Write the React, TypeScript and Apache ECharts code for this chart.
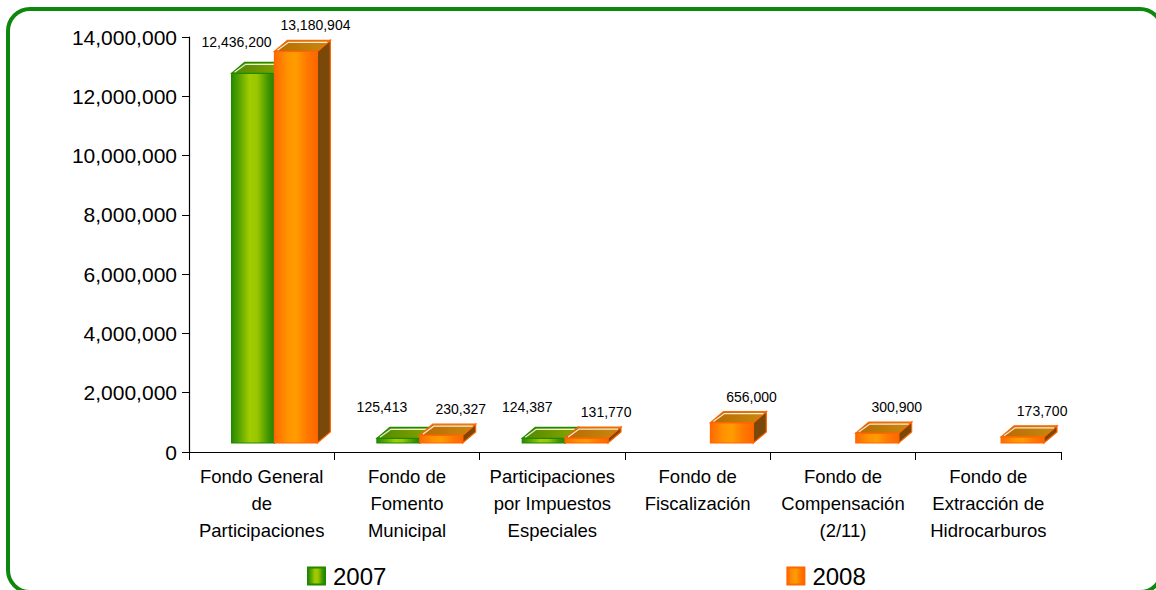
import React, { useEffect, useRef } from "react";
import * as echarts from "echarts";

const categories = [
  "Fondo General\nde\nParticipaciones",
  "Fondo de\nFomento\nMunicipal",
  "Participaciones\npor Impuestos\nEspeciales",
  "Fondo de\nFiscalización",
  "Fondo de\nCompensación\n(2/11)",
  "Fondo de\nExtracción de\nHidrocarburos",
];
const seriesNames = ["2007", "2008"];
const values2007: (number | null)[] = [12436200, 125413, 124387, null, null, null];
const values2008: (number | null)[] = [13180904, 230327, 131770, 656000, 300900, 173700];
const yTicks = [0, 2000000, 4000000, 6000000, 8000000, 10000000, 12000000, 14000000];

const FONT = "'Liberation Sans', Arial, sans-serif";
const fmt = (v: number) => v.toLocaleString("en-US");

const lg = (stops: [number, string][]) =>
  new echarts.graphic.LinearGradient(0, 0, 1, 0, stops.map(([offset, color]) => ({ offset, color })));

const palettes = [
  {
    front: () => lg([[0, "#2a8a00"], [0.15, "#4fa000"], [0.42, "#a2cc00"], [0.6, "#98c600"], [0.86, "#3f9400"], [1, "#2a8200"]]),
    top: () => lg([[0, "#4f8a00"], [1, "#8aa400"]]),
    side: "#3d6a00",
    stroke: "#1f8a00",
    labelCx: 5,
    labelDy: -31,
  },
  {
    front: () => lg([[0, "#ff6a00"], [0.3, "#ff9200"], [0.5, "#ff9c00"], [0.75, "#ff7a00"], [1, "#ff6600"]]),
    top: () => lg([[0, "#b86a00"], [1, "#c88a10"]]),
    side: "#7a4808",
    stroke: "#ff6600",
    labelCx: 41,
    labelDy: -26,
  },
];

function makeRender(si: number) {
  const p = palettes[si];
  return (params: any, api: any) => {
    const ci = api.value(0);
    const v = api.value(1);
    const base = api.coord([ci, 0]);
    const topPt = api.coord([ci, v]);
    const bw = api.size([1, 0])[0];
    const w = bw * 0.295;
    const L = base[0] - bw * 0.207 + si * w;
    const R = L + w;
    const B = base[1] - 9;
    const T = Math.min(topPt[1] - 10, B - 4);
    const dx = 13;
    const dy = 11;
    return {
      type: "group",
      children: [
        {
          type: "polygon",
          shape: { points: [[R, T], [R + dx, T - dy], [R + dx, B - dy], [R, B]] },
          style: { fill: p.side, stroke: p.stroke, lineWidth: 1.2 },
        },
        {
          type: "rect",
          shape: { x: L, y: T, width: w, height: B - T },
          style: { fill: p.front(), stroke: p.stroke, lineWidth: 1.2 },
        },
        {
          type: "polygon",
          shape: { points: [[L, T], [R, T], [R + dx, T - dy], [L + dx, T - dy]] },
          style: { fill: p.top(), stroke: p.stroke, lineWidth: 1.2 },
        },
        {
          type: "polyline",
          shape: { points: [[L + 3, T - 1], [L + dx + 1, T - dy + 2], [R + dx - 3, T - dy + 2]] },
          style: { fill: null, stroke: "rgba(255,255,255,0.85)", lineWidth: 1.2 },
        },
        {
          type: "text",
          style: {
            text: fmt(v),
            x: L + p.labelCx,
            y: T + p.labelDy,
            align: "center",
            verticalAlign: "middle",
            fontSize: 14,
            fontFamily: FONT,
            fill: "#000",
          },
        },
      ],
    };
  };
}

const toData = (arr: (number | null)[]) =>
  arr.map((v, i) => (v == null ? null : [i, v])).filter((d) => d != null);

export default function App() {
  const ref = useRef<HTMLDivElement>(null);
  useEffect(() => {
    if (!ref.current) return;
    const chart = echarts.init(ref.current, null, { renderer: "svg" });
    chart.setOption({
      animation: false,
      backgroundColor: "#ffffff",
      grid: { left: 189, right: 95, top: 37, bottom: 138 },
      xAxis: {
        type: "category",
        data: categories,
        boundaryGap: true,
        axisLine: { lineStyle: { color: "#000", width: 1.2 } },
        axisTick: { show: true, length: 8, alignWithLabel: false, lineStyle: { color: "#000" } },
        axisLabel: { color: "#000", fontSize: 18.5, lineHeight: 27, fontFamily: FONT, margin: 11, interval: 0 },
      },
      yAxis: {
        type: "value",
        min: 0,
        max: yTicks[yTicks.length - 1],
        interval: yTicks[1] - yTicks[0],
        splitLine: { show: false },
        axisLine: { show: true, lineStyle: { color: "#000", width: 1.2 } },
        axisTick: { show: true, length: 7, inside: false, lineStyle: { color: "#000" } },
        axisLabel: { color: "#000", fontSize: 21, fontFamily: FONT, margin: 12, formatter: (v: number) => fmt(v) },
      },
      legend: {
        left: 302,
        top: 559,
        itemWidth: 17,
        itemHeight: 17,
        itemGap: 400,
        icon: "rect",
        selectedMode: false,
        textStyle: { fontSize: 24, fontFamily: FONT, color: "#000", padding: [0, 0, 0, 3] },
        data: seriesNames,
      },
      series: [
        {
          name: seriesNames[0],
          type: "custom",
          renderItem: makeRender(0),
          encode: { x: 0, y: 1 },
          itemStyle: { color: palettes[0].front(), borderColor: "#1f8a00", borderWidth: 1 },
          data: toData(values2007),
          z: 2,
        },
        {
          name: seriesNames[1],
          type: "custom",
          renderItem: makeRender(1),
          encode: { x: 0, y: 1 },
          itemStyle: { color: palettes[1].front(), borderColor: "#ff6600", borderWidth: 1 },
          data: toData(values2008),
          z: 3,
        },
      ],
      graphic: [
        {
          type: "rect",
          shape: { x: 8, y: 9, width: 1154, height: 583, r: 22 },
          style: { fill: null, stroke: "#0d870d", lineWidth: 4 },
          silent: true,
          z: 10,
        },
      ],
    });
    return () => chart.dispose();
  }, []);
  return <div ref={ref} style={{ position: "absolute", left: 0, top: 0, width: 1156, height: 590 }} />;
}
